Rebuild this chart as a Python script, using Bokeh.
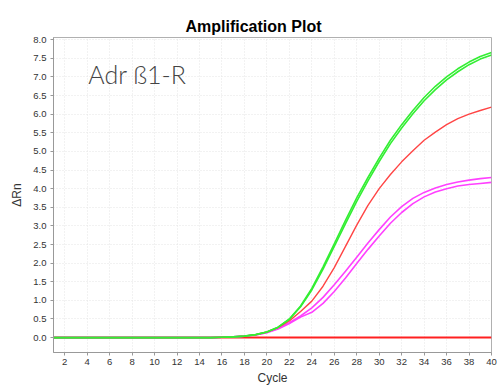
from bokeh.plotting import figure
from bokeh.models import Range1d, Label, FixedTicker, NumeralTickFormatter
from bokeh.embed import file_html
from bokeh.resources import INLINE

cycles = list(range(1, 41))

green_a = [0]*15 + [0.01, 0.02, 0.04, 0.08, 0.15, 0.28, 0.50, 0.85, 1.32, 1.90,
                    2.52, 3.15, 3.75, 4.30, 4.82, 5.30, 5.72, 6.10, 6.45, 6.75,
                    7.00, 7.22, 7.40, 7.55, 7.66]
green_b = [0]*15 + [0.01, 0.02, 0.04, 0.08, 0.15, 0.28, 0.49, 0.83, 1.28, 1.84,
                    2.45, 3.06, 3.66, 4.21, 4.73, 5.21, 5.63, 6.01, 6.36, 6.66,
                    6.92, 7.14, 7.33, 7.48, 7.59]
red_amp = [0]*15 + [0.01, 0.02, 0.04, 0.08, 0.15, 0.27, 0.45, 0.70, 0.98, 1.38,
                    1.88, 2.45, 3.02, 3.55, 4.00, 4.38, 4.72, 5.02, 5.30, 5.52,
                    5.72, 5.88, 6.00, 6.10, 6.19]
magenta_a = [0]*15 + [0.01, 0.02, 0.04, 0.07, 0.14, 0.25, 0.40, 0.58, 0.80, 1.08,
                      1.42, 1.78, 2.16, 2.54, 2.90, 3.24, 3.52, 3.74, 3.90, 4.02,
                      4.11, 4.18, 4.23, 4.27, 4.30]
magenta_b = [0]*15 + [0.01, 0.02, 0.04, 0.07, 0.13, 0.23, 0.38, 0.55, 0.68, 0.92,
                      1.24, 1.60, 1.99, 2.37, 2.73, 3.07, 3.36, 3.60, 3.78, 3.91,
                      4.00, 4.07, 4.11, 4.14, 4.17]
ntc = [0.0]*40

x_ticks = list(range(2, 41, 2))
y_ticks = [i*0.5 for i in range(0, 17)]

p = figure(width=500, height=387, output_backend="svg", toolbar_location=None,
           x_range=Range1d(1, 40), y_range=Range1d(-0.4, 8.06),
           title="Amplification Plot",
           min_border_left=53, min_border_right=9, min_border_top=37, min_border_bottom=34)

p.title.align = "left"
p.title.offset = 132
p.title.text_font = "Liberation Sans"
p.title.text_font_size = "16px"
p.title.text_font_style = "bold"
p.title.text_color = "#000000"
p.title.standoff = 5

p.outline_line_color = "#b0b0b0"
p.background_fill_color = "white"
p.border_fill_color = "white"

for ax in (p.xaxis[0], p.yaxis[0]):
    ax.axis_line_color = "#999999"
    ax.major_tick_line_color = "#999999"
    ax.major_tick_out = 3
    ax.major_tick_in = 0
    ax.minor_tick_line_color = None
    ax.major_label_text_font = "Liberation Sans"
    ax.major_label_text_font_size = "9.5px"
    ax.major_label_text_color = "#333333"
    ax.axis_label_text_font = "Liberation Sans"
    ax.axis_label_text_font_size = "12px"
    ax.axis_label_text_font_style = "normal"
    ax.axis_label_text_color = "#333333"

p.xaxis[0].major_label_standoff = 3
p.yaxis[0].major_label_standoff = 4
p.xaxis[0].ticker = FixedTicker(ticks=x_ticks)
p.yaxis[0].ticker = FixedTicker(ticks=y_ticks)
p.yaxis[0].formatter = NumeralTickFormatter(format="0.0")
p.xaxis[0].axis_label = "Cycle"
p.yaxis[0].axis_label = "ΔRn"
p.xaxis[0].axis_label_standoff = 3
p.yaxis[0].axis_label_standoff = 6

p.xgrid.grid_line_color = "#e4e4e4"
p.ygrid.grid_line_color = "#e4e4e4"
p.xgrid.grid_line_dash = "1 2"
p.ygrid.grid_line_dash = "1 2"

p.line(cycles, ntc, line_color="#ff2020", line_width=2)
p.line(cycles, magenta_b, line_color="#ff40ff", line_width=1.6)
p.line(cycles, magenta_a, line_color="#ff40ff", line_width=1.6)
p.line(cycles, red_amp, line_color="#ff4545", line_width=1.4)
p.line(cycles, green_b, line_color="#33ee33", line_width=1.6)
p.line(cycles, green_a, line_color="#33ee33", line_width=1.6)

lbl = Label(x=4.1, y=7.07, text="Adr ß1-R", text_font="'Lato Light', Lato",
            text_font_size="25px", text_color="#444444", text_baseline="alphabetic")
p.add_layout(lbl)

open("out.html", "w").write(file_html(p, INLINE))
